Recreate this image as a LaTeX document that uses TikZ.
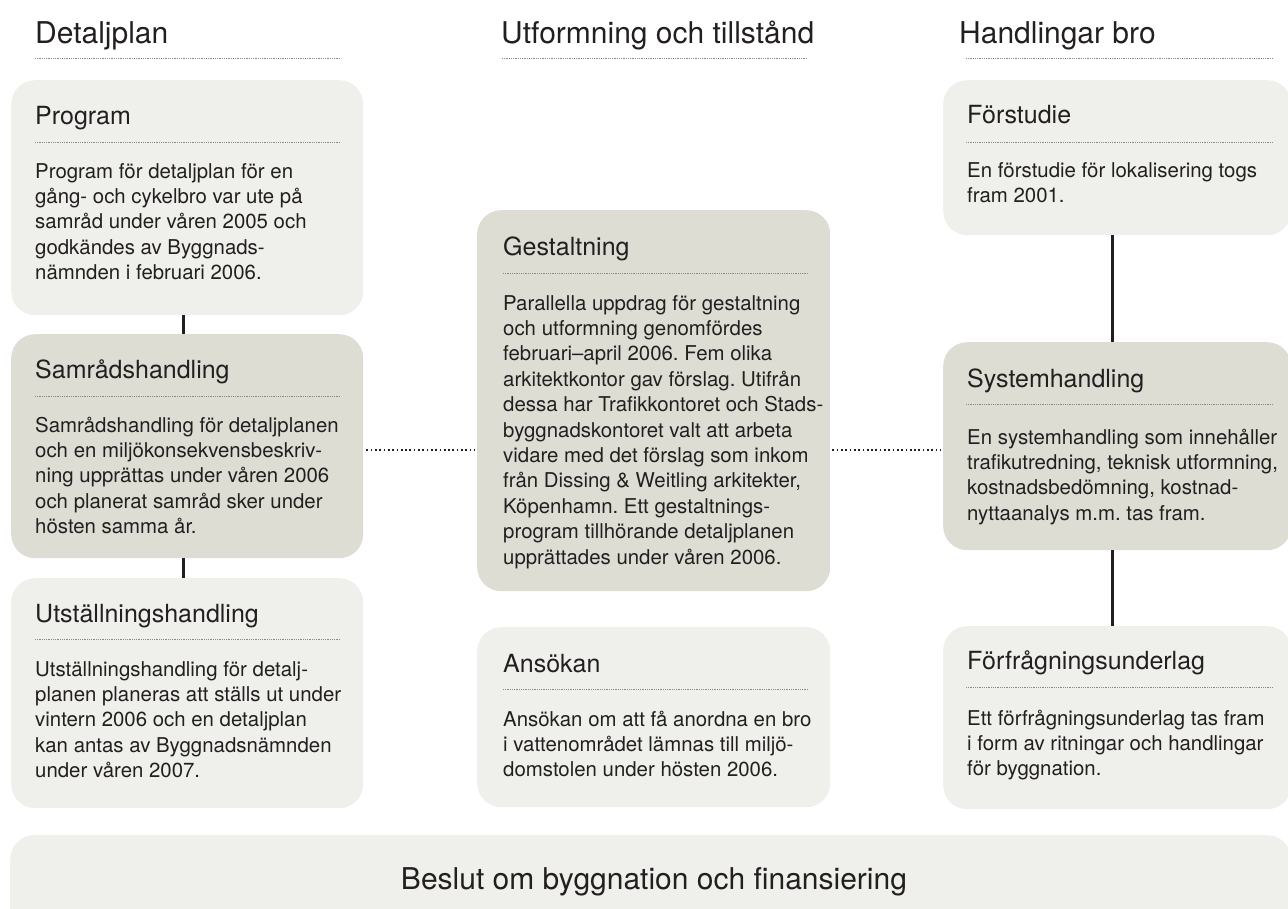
\documentclass[tikz,border=0pt]{standalone}
\usepackage{fontspec}
\setmainfont{TeX Gyre Heros}
\frenchspacing
\definecolor{lightbox}{HTML}{EFEFEB}
\definecolor{darkbox}{HTML}{DDDDD4}
\definecolor{ink}{HTML}{231F20}
\definecolor{rulegray}{HTML}{8A8A8A}
\newcommand{\boxbody}[1]{\begin{tabular}[t]{@{}l@{}}#1\end{tabular}}
\tikzset{
  panel/.style={rectangle, rounded corners=24pt, draw=none, inner sep=0pt, anchor=north west},
  lightpanel/.style={panel, fill=lightbox},
  darkpanel/.style={panel, fill=darkbox},
  header/.style={anchor=base west, inner sep=0pt, text=ink, font=\fontsize{30}{36}\selectfont},
  boxtitle/.style={anchor=base west, inner sep=0pt, text=ink, font=\fontsize{25}{30}\selectfont},
  bodytext/.style={anchor=base west, inner sep=0pt, text=ink, font=\fontsize{20.4}{25.4}\selectfont},
  titlerule/.style={draw=rulegray, line width=0.8pt, dash pattern=on 0.7pt off 1.1pt},
  vlink/.style={draw=ink, line width=3pt},
  hlink/.style={draw=ink, line width=1.7pt, dash pattern=on 1.7pt off 2.6pt}
}
\begin{document}
\begin{tikzpicture}[x=1pt,y=-1pt]
\useasboundingbox (0,0) rectangle (1288,908);

% headers
\node[header] (h1) at (35,43) {Detaljplan};
\draw[titlerule] (35,58) -- (341,58);
\node[header] (h2) at (501,43) {Utformning och tillstånd};
\draw[titlerule] (502,58) -- (808,58);
\node[header] (h3) at (959,43) {Handlingar bro};
\draw[titlerule] (966,58) -- (1273,58);

% left column
\node[lightpanel, minimum width=352pt, minimum height=235pt] (program) at (11,80) {};
\node[boxtitle] (programT) at (35,124) {Program};
\draw[titlerule] (35,142) -- (341,142);
\node[bodytext] (programB) at (35,178) {\boxbody{Program för detaljplan för en\\gång- och cykelbro var ute på\\samråd under våren 2005 och\\godkändes av Byggnads-\\nämnden i februari 2006.}};

\node[darkpanel, minimum width=352pt, minimum height=224pt] (samrad) at (11,334) {};
\node[boxtitle] (samradT) at (35,378) {Samrådshandling};
\draw[titlerule] (35,396) -- (341,396);
\node[bodytext] (samradB) at (35,432) {\boxbody{Samrådshandling för detaljplanen\\och en miljökonsekvensbeskriv-\\ning upprättas under våren 2006\\och planerat samråd sker under\\hösten samma år.}};

\node[lightpanel, minimum width=352pt, minimum height=230pt] (utst) at (11,578) {};
\node[boxtitle] (utstT) at (35,622) {Utställningshandling};
\draw[titlerule] (35,639) -- (341,639);
\node[bodytext] (utstB) at (35,676) {\boxbody{Utställningshandling för detalj-\\planen planeras att ställs ut under\\vintern 2006 och en detaljplan\\kan antas av Byggnadsnämnden\\under våren 2007.}};

% middle column
\node[darkpanel, minimum width=353pt, minimum height=381pt] (gestalt) at (477,210) {};
\node[boxtitle] (gestaltT) at (503,255) {Gestaltning};
\draw[titlerule] (503,273) -- (809,273);
\node[bodytext] (gestaltB) at (503,310) {\boxbody{Parallella uppdrag för gestaltning\\och utformning genomfördes\\februari–april 2006. Fem olika\\arkitektkontor gav förslag. Utifrån\\dessa har Trafikkontoret och Stads-\\byggnadskontoret valt att arbeta\\vidare med det förslag som inkom\\från Dissing \& Weitling arkitekter,\\Köpenhamn. Ett gestaltnings-\\program tillhörande detaljplanen\\upprättades under våren 2006.}};

\node[lightpanel, minimum width=353pt, minimum height=180pt] (ansokan) at (477,627) {};
\node[boxtitle] (ansokanT) at (503,672) {Ansökan};
\draw[titlerule] (503,689) -- (809,689);
\node[bodytext] (ansokanB) at (503,726) {\boxbody{Ansökan om att få anordna en bro\\i vattenområdet lämnas till miljö-\\domstolen under hösten 2006.}};

% right column
\node[lightpanel, minimum width=348pt, minimum height=155pt] (forst) at (943,80) {};
\node[boxtitle] (forstT) at (967,123) {Förstudie};
\draw[titlerule] (966,142) -- (1273,142);
\node[bodytext] (forstB) at (967,177) {\boxbody{En förstudie för lokalisering togs\\fram 2001.}};

\node[darkpanel, minimum width=348pt, minimum height=208pt] (system) at (943,342) {};
\node[boxtitle] (systemT) at (967,387) {Systemhandling};
\draw[titlerule] (966,404) -- (1273,404);
\node[bodytext] (systemB) at (967,444) {\boxbody{En systemhandling som innehåller\\trafikutredning, teknisk utformning,\\kostnadsbedömning, kostnad-\\nyttaanalys m.m. tas fram.}};

\node[lightpanel, minimum width=348pt, minimum height=183pt] (forfr) at (943,626) {};
\node[boxtitle] (forfrT) at (967,669) {Förfrågningsunderlag};
\draw[titlerule] (966,687) -- (1273,687);
\node[bodytext] (forfrB) at (967,725) {\boxbody{Ett förfrågningsunderlag tas fram\\i form av ritningar och handlingar\\för byggnation.}};

% bottom bar
\node[lightpanel, minimum width=1281pt, minimum height=100pt] (beslut) at (10,835) {};
\node[header, anchor=base] (beslutT) at (654,889) {Beslut om byggnation och finansiering};

% connectors
\coordinate (lx) at (183,0);
\coordinate (rx) at (1112,0);
\coordinate (hy) at (0,450);
\draw[vlink] (program.south -| lx) -- (samrad.north -| lx);
\draw[vlink] (samrad.south -| lx) -- (utst.north -| lx);
\draw[vlink] (forst.south -| rx) -- (system.north -| rx);
\draw[vlink] (system.south -| rx) -- (forfr.north -| rx);
\draw[hlink] ([xshift=3pt]samrad.east |- hy) -- ([xshift=-2pt]gestalt.west |- hy);
\draw[hlink] ([xshift=2pt]gestalt.east |- hy) -- ([xshift=-2pt]system.west |- hy);
\end{tikzpicture}
\end{document}
